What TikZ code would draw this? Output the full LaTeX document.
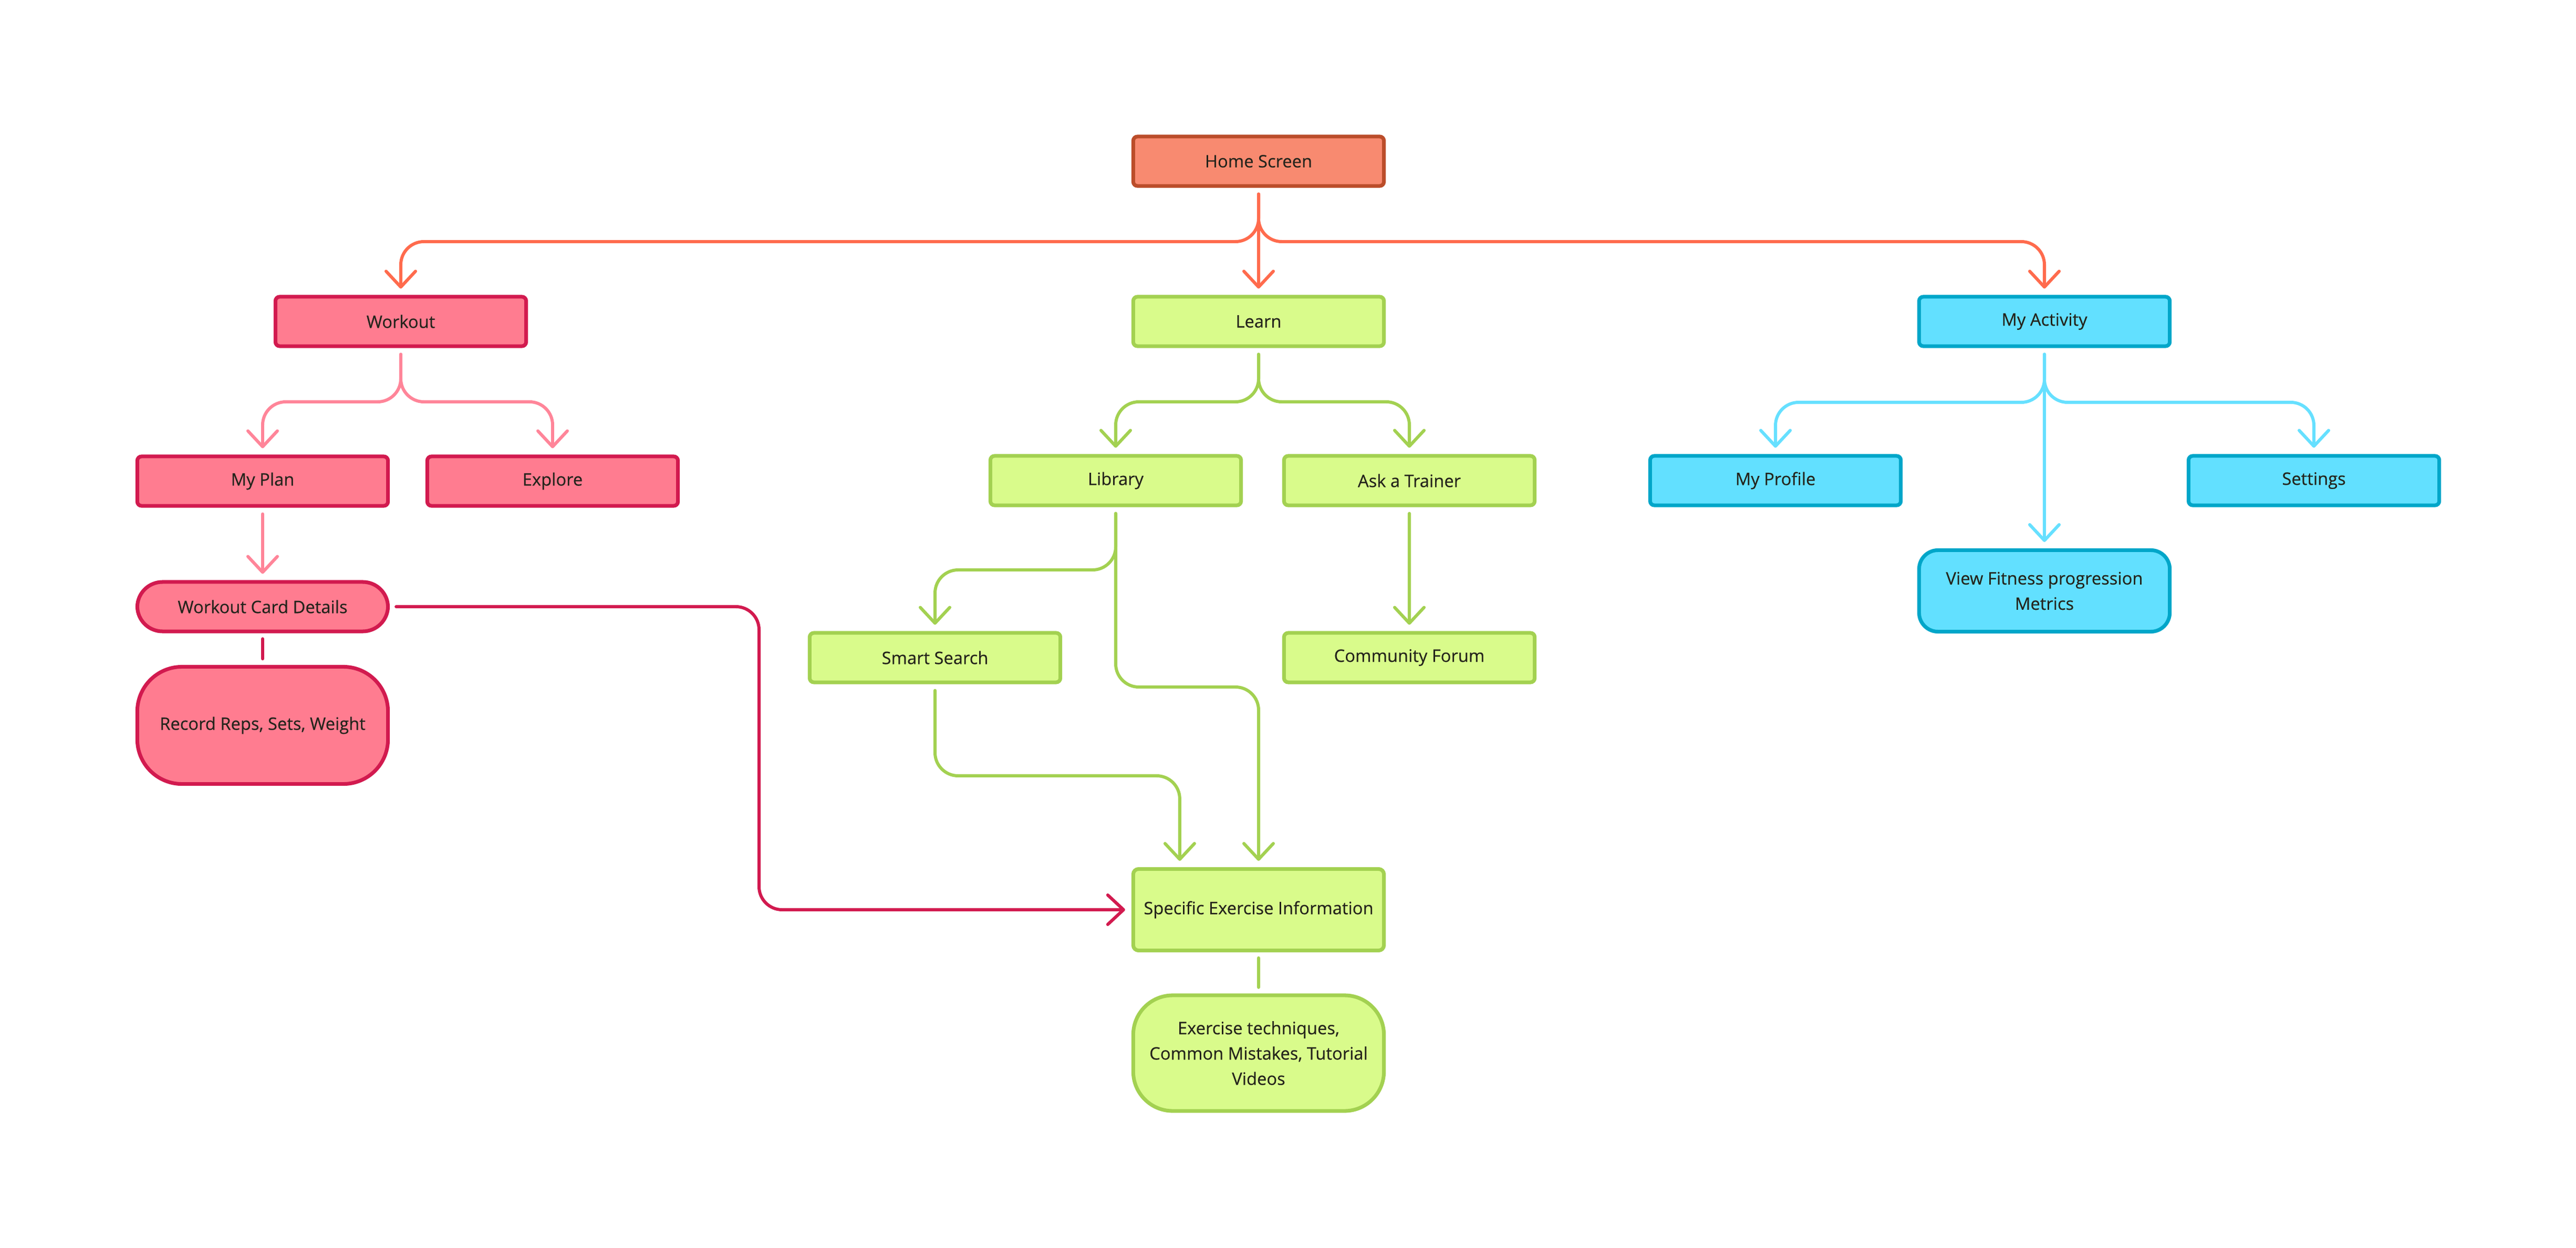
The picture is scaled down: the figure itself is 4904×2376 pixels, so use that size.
\documentclass[tikz,border=0pt]{standalone}
\usepackage{fontspec}
\setmainfont{Open Sans}[RawFeature={embolden=0.4}]
\usetikzlibrary{arrows.meta}
\definecolor{homeF}{HTML}{F88A70}
\definecolor{homeS}{HTML}{BB4D2A}
\definecolor{homeC}{HTML}{FF6B4D}
\definecolor{wkF}{HTML}{FF7C90}
\definecolor{wkS}{HTML}{D21A4F}
\definecolor{wkC}{HTML}{FF8599}
\definecolor{lnF}{HTML}{D9FB8B}
\definecolor{lnS}{HTML}{A3D151}
\definecolor{acF}{HTML}{62E0FF}
\definecolor{acS}{HTML}{00A6C9}
\definecolor{acC}{HTML}{66E0FF}
\definecolor{txt}{HTML}{24241C}
\tikzset{
  box/.style={draw, line width=2pt, rounded corners=0.08cm, inner sep=0pt,
    minimum width=4.77cm, minimum height=0.94cm, text=txt, align=center,
    font=\fontsize{9.3}{13.7}\selectfont},
  tall/.style={minimum height=1.55cm},
  homebox/.style={box, fill=homeF, draw=homeS},
  wkbox/.style={box, fill=wkF, draw=wkS},
  lnbox/.style={box, fill=lnF, draw=lnS},
  acbox/.style={box, fill=acF, draw=acS},
  conn/.style={line width=1.7pt, line cap=round, rounded corners=0.44cm,
    shorten <=0.12cm, shorten >=0.12cm,
    -{Straight Barb[length=0.3cm,width=0.56cm,round]}},
  plain/.style={line width=1.9pt, line cap=round, shorten <=0.11cm, shorten >=0.12cm},
  hc/.style={conn, draw=homeC},
  wc/.style={conn, draw=wkC},
  crim/.style={conn, draw=wkS},
  lc/.style={conn, draw=lnS},
  ac/.style={conn, draw=acC},
}
\begin{document}
\begin{tikzpicture}[x=0.01cm, y=-0.01cm]
\useasboundingbox[fill=white] (0,0) rectangle (4904,2376);

% nodes
\node[homebox] (home) at (2396,307) {Home Screen};
\node[wkbox] (workout) at (763,612) {Workout};
\node[lnbox] (learn) at (2396,612) {Learn};
\node[acbox] (act) at (3892,612) {My Activity};

\node[wkbox] (myplan) at (500,916) {My Plan};
\node[wkbox] (explore) at (1052,916) {Explore};
\node[lnbox] (library) at (2124,915) {Library};
\node[lnbox] (ask) at (2683,915) {Ask a Trainer};
\node[acbox] (profile) at (3380,915) {My Profile};
\node[acbox] (settings) at (4405,915) {Settings};

\node[wkbox, rounded corners=0.48cm] (wcd) at (500,1155) {Workout Card Details};
\node[wkbox, rounded corners=0.85cm, minimum height=2.23cm] (record) at (500,1381) {Record Reps, Sets, Weight};

\node[lnbox] (smart) at (1780,1252) {Smart Search};
\node[lnbox] (community) at (2683,1252) {Community Forum};

\node[acbox, tall, rounded corners=0.36cm] (fitness) at (3892,1125) {View Fitness progression\\Metrics};

\node[lnbox, tall, rounded corners=0.1cm] (specific) at (2396,1732) {Specific Exercise Information};
\node[lnbox, rounded corners=0.75cm, minimum height=2.2cm] (exercise) at (2396,2005) {Exercise techniques,\\Common Mistakes, Tutorial\\Videos};

% home connectors
\draw[hc] (home.south) -- (home.south |- 0,460) -| (workout.north);
\draw[hc] (home.south) -- (home.south |- 0,460) -| (act.north);
\draw[hc] (home.south) -- (learn.north);

% workout connectors
\draw[wc] (workout.south) -- (workout.south |- 0,765) -| (myplan.north);
\draw[wc] (workout.south) -- (workout.south |- 0,765) -| (explore.north);
\draw[wc] (myplan.south) -- (wcd.north);
\draw[plain, draw=wkS] (wcd.south) -- (record.north);
\draw[crim] (wcd.east) -- (wcd.east -| 1445,0) |- (specific.west);

% learn connectors
\draw[lc] (learn.south) -- (learn.south |- 0,765) -| (library.north);
\draw[lc] (learn.south) -- (learn.south |- 0,765) -| (ask.north);
\draw[lc] (library.south) -- (library.south |- 0,1085) -| (smart.north);
\draw[lc] (library.south) -- (library.south |- 0,1308) -| (specific.north);
\draw[lc] (smart.south) -- (smart.south |- 0,1477) -| ([xshift=-1.5cm]specific.north);
\draw[lc] (ask.south) -- (community.north);
\draw[plain, draw=lnS] (specific.south) -- (exercise.north);

% activity connectors
\draw[ac] (act.south) -- (act.south |- 0,766) -| (profile.north);
\draw[ac] (act.south) -- (act.south |- 0,766) -| (settings.north);
\draw[ac] (act.south) -- (fitness.north);
\end{tikzpicture}
\end{document}
